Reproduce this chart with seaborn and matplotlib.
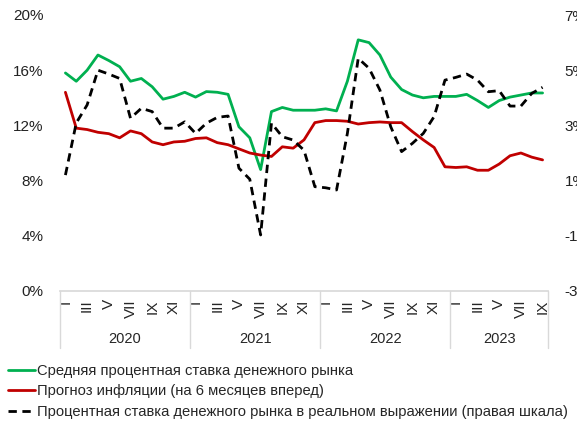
import numpy as np
import pandas as pd
import matplotlib
matplotlib.use("Agg")
import matplotlib.pyplot as plt
import seaborn as sns
from matplotlib.ticker import FuncFormatter

# monthly data, Jan 2020 - Sep 2023
years = ["2020", "2021", "2022", "2023"]
months_in_year = [12, 12, 12, 9]
roman = ["I", "", "III", "", "V", "", "VII", "", "IX", "", "XI", ""]

money_rate = [15.8, 15.2, 16.0, 17.1, 16.7, 16.25, 15.2, 15.4, 14.8, 13.9, 14.1, 14.4,
              14.05, 14.45, 14.4, 14.25, 11.9, 11.1, 8.8, 13.0, 13.3, 13.1, 13.1, 13.1,
              13.2, 13.05, 15.2, 18.2, 18.0, 17.1, 15.5, 14.6, 14.2, 14.0, 14.1, 14.1,
              14.1, 14.25, 13.8, 13.3, 13.8, 14.05, 14.2, 14.35, 14.35]
infl_forecast = [14.4, 11.8, 11.7, 11.5, 11.4, 11.1, 11.6, 11.4, 10.8, 10.6, 10.8, 10.85,
                 11.05, 11.1, 10.75, 10.6, 10.3, 10.0, 9.85, 9.75, 10.45, 10.35, 10.95, 12.2,
                 12.35, 12.35, 12.3, 12.1, 12.2, 12.25, 12.2, 12.2, 11.55, 10.95, 10.4, 9.0,
                 8.95, 9.0, 8.75, 8.75, 9.2, 9.8, 10.0, 9.7, 9.5]
real_rate = [1.2, 3.09, 3.74, 5.0, 4.86, 4.7, 3.26, 3.62, 3.5, 2.9, 2.9, 3.13,
             2.71, 3.08, 3.29, 3.34, 1.45, 1.05, -0.97, 3.08, 2.59, 2.47, 2.1, 0.78,
             0.74, 0.66, 2.71, 5.43, 5.07, 4.28, 2.95, 2.05, 2.35, 2.71, 3.32, 4.64,
             4.74, 4.86, 4.64, 4.22, 4.26, 3.7, 3.7, 4.16, 4.38]

lbl_green = "Средняя процентная ставка денежного рынка"
lbl_red = "Прогноз инфляции (на 6 месяцев вперед)"
lbl_black = "Процентная ставка денежного рынка в реальном выражении (правая шкала)"

month_labels = []
for n in months_in_year:
    month_labels += roman[:n]

df = pd.DataFrame({"idx": np.arange(len(money_rate)),
                   "money": money_rate, "infl": infl_forecast, "real": real_rate})

sns.set_theme(style="white")
plt.rcParams["font.family"] = ["Liberation Sans", "DejaVu Sans"]

fig = plt.figure(figsize=(5.77, 4.25), dpi=100)
ax = fig.add_axes([60 / 577, 134 / 425, 488 / 577, 276 / 425])
ax2 = ax.twinx()

sns.lineplot(data=df, x="idx", y="money", ax=ax, color="#00b050", lw=2, label=lbl_green, legend=False)
sns.lineplot(data=df, x="idx", y="infl", ax=ax, color="#c00000", lw=2, label=lbl_red, legend=False)
sns.lineplot(data=df, x="idx", y="real", ax=ax2, color="black", lw=2, label=lbl_black, legend=False)
ax2.lines[0].set_dashes((3, 2))

ax.set_xlim(-0.5, len(money_rate) - 0.5)
ax.set_ylim(0, 20)
ax.set_yticks(np.arange(0, 21, 4))
ax2.set_ylim(-3, 7)
ax2.set_yticks(np.arange(-3, 8, 2))
pct = FuncFormatter(lambda v, p: f"{v:.0f}%")
ax.yaxis.set_major_formatter(pct)
ax2.yaxis.set_major_formatter(pct)
ax.set_xlabel("")
ax.set_ylabel("")
ax2.set_ylabel("")

ax.set_xticks(np.arange(len(month_labels)))
ax.set_xticklabels(month_labels, rotation=90, fontsize=11)
ax.tick_params(axis="x", length=0, pad=6)
ax.tick_params(axis="y", length=0, pad=12, labelsize=11, labelcolor="#222222")
ax2.tick_params(axis="y", length=0, pad=12, labelsize=11, labelcolor="#222222")

for a in (ax, ax2):
    for s in ["top", "right", "left", "bottom"]:
        a.spines[s].set_visible(False)
ax.spines["bottom"].set_visible(True)
ax.spines["bottom"].set_color("#d9d9d9")

# year group separators and labels
trans = ax.get_xaxis_transform()
start = 0
bounds = [-0.5]
for y, n in zip(years, months_in_year):
    ax.text(start + (n - 1) / 2, -0.175, y, transform=trans, ha="center", va="center", fontsize=10.5)
    start += n
    bounds.append(start - 0.5)
for b in bounds:
    ax.plot([b, b], [0, -0.205], transform=trans, color="#d9d9d9", lw=1, clip_on=False)

h1, l1 = ax.get_legend_handles_labels()
h2, l2 = ax2.get_legend_handles_labels()
fig.legend(h1 + h2, l1 + l2, loc="upper left", bbox_to_anchor=(0.004, 0.158),
           frameon=False, fontsize=10.6, handlelength=1.8, handletextpad=0.15,
           labelspacing=0.45, borderaxespad=0)

fig.savefig("out.png", dpi=100)
